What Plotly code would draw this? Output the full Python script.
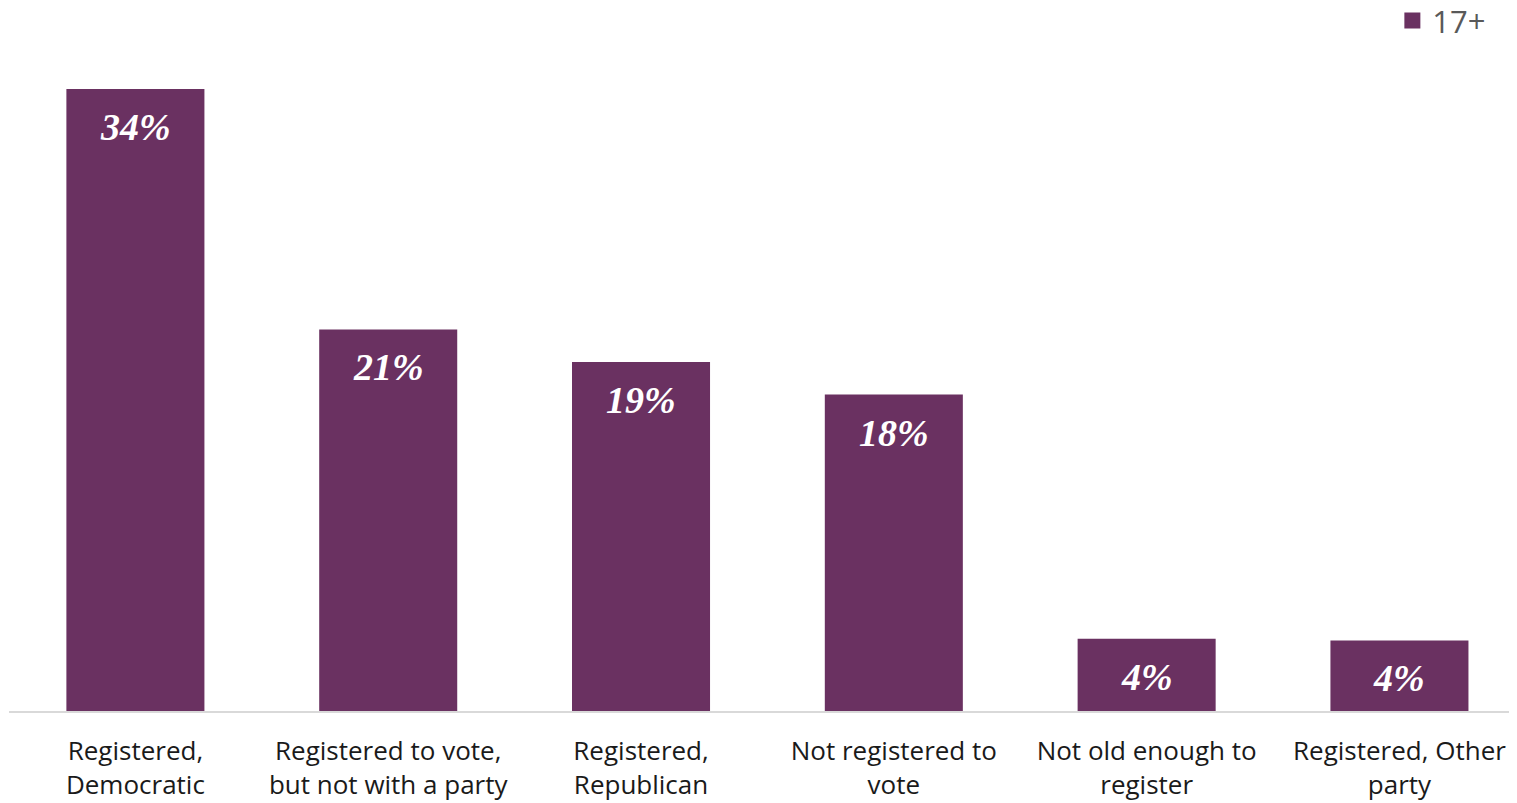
import plotly.graph_objects as go

categories = [
    "Registered,<br>Democratic",
    "Registered to vote,<br>but not with a party",
    "Registered,<br>Republican",
    "Not registered to<br>vote",
    "Not old enough to<br>register",
    "Registered, Other<br>party",
]
values = [34.4, 21.1, 19.3, 17.5, 4.0, 3.9]
value_labels = ["34%", "21%", "19%", "18%", "4%", "4%"]
series_name = "17+"

BAR = "#6A3161"

fig = go.Figure()
fig.add_trace(go.Bar(
    x=list(range(len(categories))),
    y=values,
    name=series_name,
    marker=dict(color=BAR, line=dict(width=0)),
    showlegend=False,
    hoverinfo="skip",
))
# legend entry (no data drawn)
fig.add_trace(go.Scatter(
    x=[None], y=[None], mode="markers", name=series_name,
    marker=dict(symbol="square", size=18, color=BAR),
    showlegend=True,
))

for i, (v, lab) in enumerate(zip(values, value_labels)):
    fig.add_annotation(
        x=i, y=v, xref="x", yref="y",
        text=lab, showarrow=False,
        yanchor="middle", yshift=-38,
        font=dict(family="Liberation Serif, DejaVu Serif, serif", size=38,
                  color="white", weight="bold", style="italic"),
    )

fig.update_layout(
    width=1509, height=795,
    margin=dict(l=1, r=0, t=42, b=92, autoexpand=False),
    paper_bgcolor="white", plot_bgcolor="white",
    bargap=0.454,
    legend=dict(
        x=0.983, xref="paper", xanchor="right",
        y=1.044, yref="paper", yanchor="middle",
        font=dict(family="Open Sans, Noto Sans, sans-serif", size=31, color="#595959"),
        bgcolor="rgba(0,0,0,0)",
        itemwidth=30,
        tracegroupgap=0,
    ),
    xaxis=dict(
        tickmode="array",
        tickvals=list(range(len(categories))),
        ticktext=categories,
        range=[-0.5, 5.465],
        showline=True, linecolor="#d9d9d9", linewidth=2,
        showgrid=False, zeroline=False,
        ticks="", ticklabelstandoff=16, automargin=False,
        tickfont=dict(family="Open Sans, Noto Sans, sans-serif", size=26, color="#1a1a1a"),
    ),
    yaxis=dict(
        range=[0, 36.55],
        visible=False, showgrid=False, zeroline=False,
    ),
)

fig.write_html("out.html")
